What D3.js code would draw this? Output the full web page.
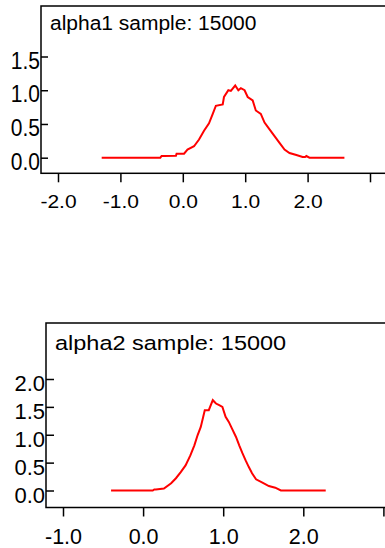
<!DOCTYPE html>
<html>
<head>
<meta charset="utf-8">
<script src="https://cdn.jsdelivr.net/npm/d3@7"></script>
<style>
  body { margin: 0; background: #fff; }
  svg { display: block; font-family: "Liberation Sans", Arial, sans-serif; }
</style>
</head>
<body>
<svg id="chart" width="385" height="548"></svg>
<script>
// density traces
var alpha1X = [-1.30, -0.36, -0.34, -0.30, -0.11, -0.10, 0.02, 0.075, 0.18, 0.26, 0.34, 0.42, 0.48, 0.53, 0.64, 0.66, 0.73, 0.77, 0.84, 0.89, 0.93, 0.99, 1.04, 1.12, 1.17, 1.25, 1.31, 1.39, 1.47, 1.55, 1.63, 1.71, 1.82, 1.92, 1.96, 1.98, 2.03, 2.59]
var alpha1Y = [0, 0, 0.025, 0.025, 0.03, 0.06, 0.06, 0.12, 0.17, 0.27, 0.40, 0.51, 0.65, 0.77, 0.79, 0.90, 1.00, 0.99, 1.07, 1.00, 1.03, 1.00, 0.90, 0.85, 0.70, 0.65, 0.52, 0.42, 0.32, 0.22, 0.12, 0.07, 0.04, 0.01, 0.01, 0.025, 0, 0]

var alpha2X = [-0.40, 0.12, 0.14, 0.16, 0.26, 0.35, 0.41, 0.47, 0.53, 0.59, 0.64, 0.68, 0.72, 0.75, 0.77, 0.82, 0.87, 0.91, 0.95, 0.99, 1.03, 1.07, 1.11, 1.16, 1.20, 1.24, 1.28, 1.32, 1.36, 1.41, 1.49, 1.57, 1.65, 1.72, 2.28]
var alpha2Y = [0, 0, 0.02, 0.02, 0.035, 0.13, 0.22, 0.33, 0.45, 0.63, 0.81, 0.99, 1.14, 1.32, 1.44, 1.44, 1.62, 1.56, 1.53, 1.50, 1.32, 1.23, 1.11, 0.96, 0.81, 0.67, 0.54, 0.42, 0.31, 0.20, 0.14, 0.08, 0.05, 0, 0]

var titles = ["alpha1 sample: 15000", "alpha2 sample: 15000"]
var xTicks1 = [-2, -1, 0, 1, 2, 3]
var yTicks1 = [0, 0.5, 1.0, 1.5]
var xTicks2 = [-1, 0, 1, 2, 3]
var yTicks2 = [0, 0.5, 1.0, 1.5, 2.0]

var svg = d3.select("#chart")

// plain hyphen for negatives, like the original
function fmt(d) { return d.toFixed(1) }

function drawPanel(p) {
    var g = svg.append("g")

    // frame (right side runs off the page)
    g.append("rect")
        .attr("x", p.left).attr("y", p.top)
        .attr("width", 420).attr("height", p.bottom - p.top)
        .attr("fill", "none").attr("stroke", "#000").attr("stroke-width", 1.5)

    var x = d3.scaleLinear().domain(p.xDom).range(p.xRange)
    var y = d3.scaleLinear().domain(p.yDom).range(p.yRange)

    // y axis - ticks point inward
    var ya = g.append("g")
        .attr("transform", "translate(" + p.left + ",0)")
        .call(d3.axisLeft(y).tickValues(p.yTicks).tickSize(-p.yTickLen).tickSizeOuter(0)
            .tickFormat(fmt))
    ya.select(".domain").remove()
    ya.selectAll("line").attr("stroke", "#000").attr("stroke-width", 1.5)
    ya.selectAll("text")
        .attr("x", -1).attr("dy", null)
        .attr("y", p.yLabelOff / p.ySy)
        .attr("transform", "scale(1," + p.ySy + ")")
        .style("font-size", p.yFont + "px").attr("fill", "#000")
        .attr("font-family", null)

    // x axis - ticks point outward
    var xa = g.append("g")
        .attr("transform", "translate(0," + p.bottom + ")")
        .call(d3.axisBottom(x).tickValues(p.xTicks).tickSize(9).tickSizeOuter(0)
            .tickFormat(function (d) { return d == 3 ? "" : fmt(d) }))
    xa.select(".domain").remove()
    xa.selectAll("line").attr("stroke", "#000").attr("stroke-width", 1.5)
    xa.selectAll("text")
        .attr("dy", null)
        .attr("y", p.xLabelOff / p.xSy)
        .attr("transform", "scale(1," + p.xSy + ")")
        .style("font-size", p.xFont + "px").attr("fill", "#000")
        .attr("font-family", null)

    var pts = p.xs.map(function (d, i) { return [d, p.ys[i]] })
    var line = d3.line()
        .x(function (d) { return x(d[0]) })
        .y(function (d) { return y(d[1]) })

    g.append("path")
        .datum(pts)
        .attr("d", line)
        .attr("fill", "none")
        .attr("stroke", "#ff0000")
        .attr("stroke-width", 2)

    g.append("text")
        .attr("transform", "translate(" + p.titleX + "," + p.titleY + ") scale(1," + p.titleSy + ")")
        .style("font-size", p.titleFont + "px")
        .attr("fill", "#000")
        .text(p.title)
}

drawPanel({
    left: 41, top: 6, bottom: 173.3,
    xDom: [-2, 3], xRange: [58, 370],
    yDom: [0, 1.5], yRange: [157.7, 56.5],
    xTicks: xTicks1, yTicks: yTicks1, yTickLen: 7,
    yFont: 21, ySy: 1.1, yLabelOff: 11.6,
    xSy: 0.85, xLabelOff: 34.4, xFont: 21,
    xs: alpha1X, ys: alpha1Y,
    title: titles[0], titleX: 50, titleY: 30, titleFont: 21, titleSy: 0.92
})

drawPanel({
    left: 46, top: 323, bottom: 507.5,
    xDom: [-1, 2], xRange: [63, 303.3],
    yDom: [0, 2], yRange: [490.5, 379],
    xTicks: xTicks2, yTicks: yTicks2, yTickLen: 8,
    yFont: 22, ySy: 1.0, yLabelOff: 11.5,
    xSy: 1.0, xLabelOff: 36, xFont: 21.5,
    xs: alpha2X, ys: alpha2Y,
    title: titles[1], titleX: 55, titleY: 350, titleFont: 23.5, titleSy: 0.88
})
</script>
</body>
</html>
